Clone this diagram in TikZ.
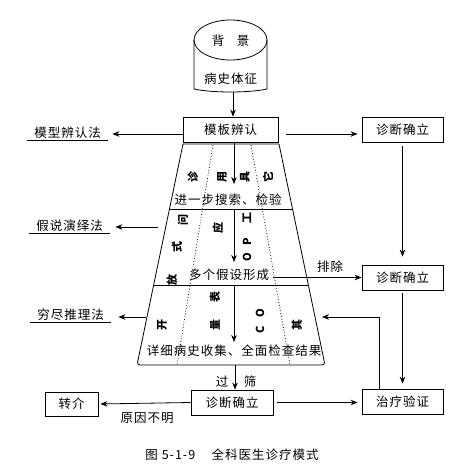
\documentclass[tikz,border=0pt]{standalone}
\usepackage{fontspec}
\setmainfont{Noto Sans CJK SC}[LetterSpace=8]
\usetikzlibrary{arrows.meta,positioning,calc}

\begin{document}
\begin{tikzpicture}[
  x=1pt, y=1pt,
  line width=0.8pt,
  font=\fontsize{12.5}{14}\selectfont,
  box/.style={
    draw,
    minimum width=81pt,
    minimum height=25pt,
    inner sep=0pt
  },
  method/.style={
    minimum width=81pt,
    inner xsep=0pt,
    inner ysep=1pt,
    anchor=south
  },
  tag/.style={
    rotate=90,
    inner sep=0pt,
    font=\fontsize{11}{11}\selectfont\bfseries
  },
  arrow/.style={-{Stealth[length=7pt,width=5.5pt]}}
]
\useasboundingbox (0,0) rectangle (462,-476);

% cylinder: background and history
\draw (230.5,-40) ellipse [x radius=36.5, y radius=20];
\draw (194,-40) -- (194,-89) .. controls (212,-93) and (249,-93) .. (267,-89) -- (267,-40);
\node (bg) at (230.5,-41) {背\quad 景};
\node (sign) at (230.5,-79) {病史体征};
\coordinate (cylbot) at (233,-92);

% boxes
\node[box, minimum width=95pt] (tpl) at (230.5,-129.5) {模板辨认};
\node[box] (dx1) at (402.5,-129.5) {诊断确立};
\node[box] (dx2) at (402.5,-277.5) {诊断确立};
\node[box] (treat) at (402.5,-401.5) {治疗验证};
\node[box, minimum width=82pt] (dx3) at (232,-402.5) {诊断确立};
\node[box, minimum width=53pt, minimum height=24pt] (refer) at (71.5,-404) {转介};

% funnel
\coordinate (tl) at (183,-144);
\coordinate (tr) at (279,-144);
\coordinate (bl) at (137,-365);
\coordinate (br) at (325,-365);
\draw (tr) -- (tl) [rounded corners=3pt] -- (bl) -- (br) [sharp corners] -- (tr);
\draw ($(tl)!0.294!(bl)$) -- ($(tr)!0.294!(br)$);
\draw ($(tl)!0.638!(bl)$) -- ($(tr)!0.638!(br)$);
\draw[dotted] (213,-145) -- (177,-365);
\draw[dotted] (251,-145) -- (290,-365);

\node (step1) at (228,-200) {进一步搜索、检验};
\node (step2) at (229,-275) {多个假设形成};
\node (step3) at (234,-351) {详细病史收集、全面检查结果};

% rotated words in the funnel
\node[tag] (t1) at (193,-177) {诊};
\node[tag] (t2) at (183,-220) {问};
\node[tag] (t3) at (177,-247) {式};
\node[tag] (t4) at (172,-280) {放};
\node[tag] (t5) at (162,-325) {开};
\node[tag] (t6) at (222,-177) {用};
\node[tag] (t7) at (218,-228) {应};
\node[tag] (t8) at (215,-297) {表};
\node[tag] (t9) at (215,-325) {量};
\node[tag] (t10) at (245,-177) {具};
\node[tag] (t11) at (247,-218) {工};
\node[tag] (t12) at (247,-242) {P};
\node[tag] (t13) at (247,-257) {O};
\node[tag] (t14) at (260,-313) {O};
\node[tag] (t15) at (260,-330) {C};
\node[tag] (t16) at (268,-177) {它};
\node[tag] (t17) at (297,-325) {其};

% methods on the left
\node[method] (m1) at (67.5,-140) {模型辨认法};
\node[method] (m2) at (69.5,-233) {假说演绎法};
\node[method] (m3) at (70.5,-322) {穷尽推理法};
\draw (m1.south west) -- (m1.south east);
\draw (m2.south west) -- (m2.south east);
\draw (m3.south west) -- (m3.south east);
\coordinate (h2) at (158,-227);
\coordinate (h3) at (146,-317);
\coordinate (fb) at (322,-317);

% main flow
\draw[arrow] (cylbot) -- (cylbot |- tpl.north);
\coordinate (s1) at (234,-142);
\coordinate (e1) at (234,-184);
\coordinate (s2) at (234,-209);
\coordinate (e2) at (234,-262);
\coordinate (s3) at (234,-285);
\coordinate (e3) at (234,-342);
\coordinate (s4) at (235,-365);
\draw[arrow] (s1) -- (e1);
\draw[arrow] (s2) -- (e2);
\draw[arrow] (s3) -- (e3);
\draw[arrow] (s4) -- (s4 |- dx3.north);
\node (sieve1) at (222,-382) {过};
\node (sieve2) at (250,-382) {筛};

\draw[arrow, shorten >=4pt] ([yshift=-4.5pt]tpl.west) -- (m1.east |- 0,-134);
\draw[arrow, shorten <=8pt, shorten >=4pt] ([yshift=-4.5pt]tpl.east) -- ([yshift=-4.5pt]dx1.west);
\draw[arrow, shorten >=5pt] (h2) -- (m2.east |- h2);
\draw[arrow, shorten >=7pt] (h3) -- (m3.east |- h3);

\draw[arrow, shorten <=4pt, shorten >=8pt] (dx1.south) -- (dx2.north);
\draw[arrow] (step2.east |- dx2.west) -- (dx2.west);
\node (excl) at (330,-267) {排除};
\draw[arrow, shorten <=3pt, shorten >=5pt] (dx2.south) -- (treat.north);
\draw[arrow] ([xshift=-23.5pt]treat.north) |- (fb);

\draw[arrow, shorten >=2pt] (dx3.west) -- (refer.east);
\node (unknown) at (147,-418) {原因不明};
\draw[arrow, shorten <=4pt, shorten >=4pt] (dx3.east) -- (treat.west |- dx3.east);

% caption
\node (cap) at (232,-455) {图 5-1-9\quad\ 全科医生诊疗模式};
\end{tikzpicture}
\end{document}
